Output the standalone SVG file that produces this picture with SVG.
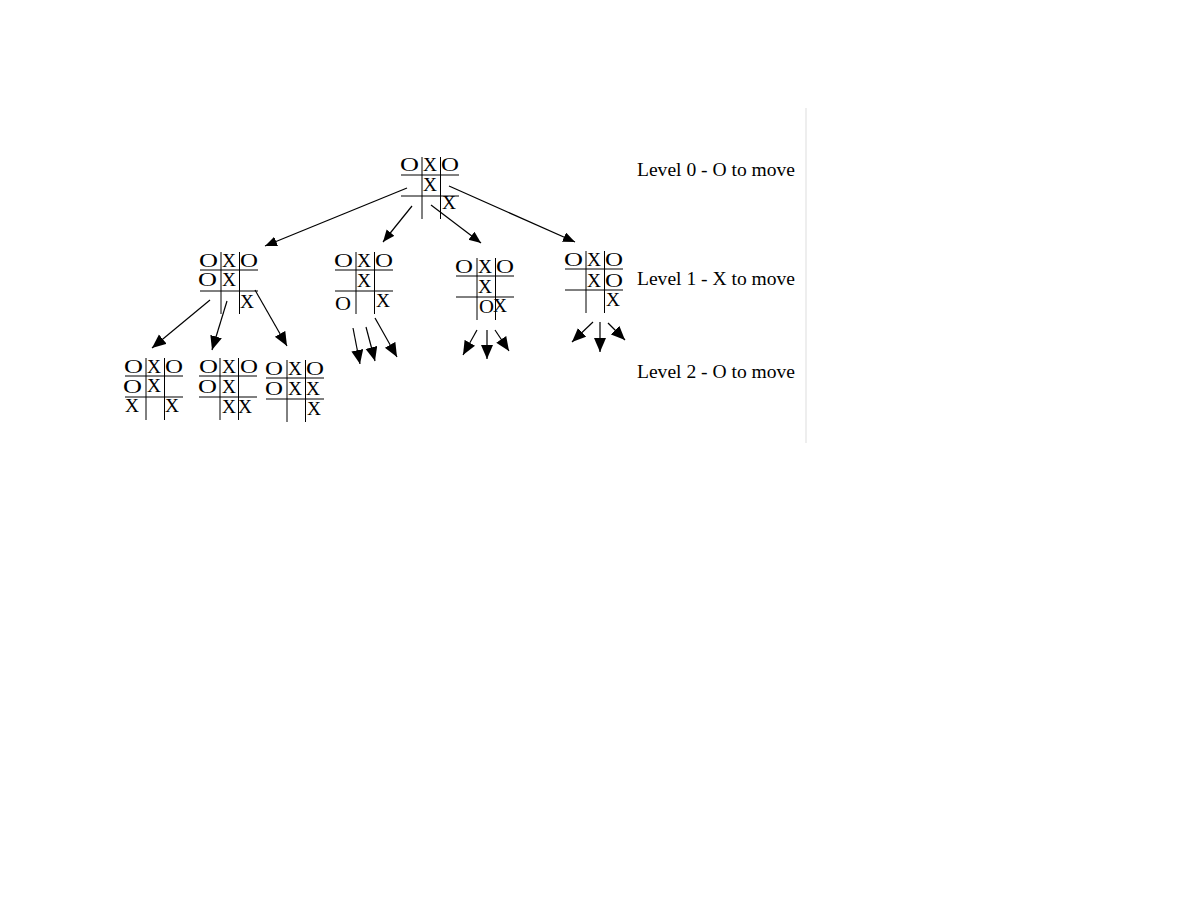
<svg xmlns="http://www.w3.org/2000/svg" width="1188" height="918" viewBox="0 0 1188 918">
<style>
.g line{stroke:#000;stroke-width:1}
.t{font-family:"Liberation Serif","Times New Roman",serif;font-size:19px;fill:#000}
.c line{stroke:#000;stroke-width:1.2}
.lbl{font-family:"Liberation Serif","Times New Roman",serif;font-size:18.5px;fill:#000}
</style>
<defs>
<marker id="ah" markerUnits="userSpaceOnUse" markerWidth="13" markerHeight="11" refX="12" refY="5" orient="auto"><path d="M0,0 L12,5 L0,10 z" fill="#000"/></marker>
<marker id="ah2" markerUnits="userSpaceOnUse" markerWidth="15" markerHeight="13" refX="14" refY="6" orient="auto"><path d="M0,0 L14,6 L0,12 z" fill="#000"/></marker>
<g id="grid" class="g"><line x1="0" y1="18" x2="58" y2="18"/><line x1="0" y1="39" x2="58" y2="39"/><line x1="21" y1="0" x2="21" y2="62"/><line x1="39.5" y1="0" x2="39.5" y2="62"/></g>
</defs>
<rect width="1188" height="918" fill="#fff"/>
<line x1="806" y1="108" x2="806" y2="443" stroke="#ddd" stroke-width="1"/>

<g id="root" transform="translate(401,157)">
<use href="#grid"/>
<text class="t" x="-1" y="14" textLength="19" lengthAdjust="spacingAndGlyphs">O</text>
<text class="t" x="22" y="14" textLength="14" lengthAdjust="spacingAndGlyphs">X</text>
<text class="t" x="40" y="14" textLength="18" lengthAdjust="spacingAndGlyphs">O</text>
<text class="t" x="22" y="34" textLength="14" lengthAdjust="spacingAndGlyphs">X</text>
<text class="t" x="41" y="52" textLength="14" lengthAdjust="spacingAndGlyphs">X</text>
</g>

<g id="b1" transform="translate(200,252)">
<use href="#grid"/>
<text class="t" x="-1" y="15" textLength="19" lengthAdjust="spacingAndGlyphs">O</text>
<text class="t" x="22" y="15" textLength="14" lengthAdjust="spacingAndGlyphs">X</text>
<text class="t" x="40" y="15" textLength="18" lengthAdjust="spacingAndGlyphs">O</text>
<text class="t" x="-2" y="34" textLength="19" lengthAdjust="spacingAndGlyphs">O</text>
<text class="t" x="22" y="34" textLength="14" lengthAdjust="spacingAndGlyphs">X</text>
<text class="t" x="40" y="56" textLength="14" lengthAdjust="spacingAndGlyphs">X</text>
</g>

<g id="b2" transform="translate(335,252)">
<use href="#grid"/>
<text class="t" x="-1" y="15" textLength="19" lengthAdjust="spacingAndGlyphs">O</text>
<text class="t" x="22" y="15" textLength="14" lengthAdjust="spacingAndGlyphs">X</text>
<text class="t" x="40" y="15" textLength="18" lengthAdjust="spacingAndGlyphs">O</text>
<text class="t" x="22" y="35" textLength="14" lengthAdjust="spacingAndGlyphs">X</text>
<text class="t" x="0" y="58" textLength="16" lengthAdjust="spacingAndGlyphs">O</text>
<text class="t" x="41" y="55" textLength="14" lengthAdjust="spacingAndGlyphs">X</text>
</g>

<g id="b3" transform="translate(456,258)">
<use href="#grid"/>
<text class="t" x="-1" y="15" textLength="18" lengthAdjust="spacingAndGlyphs">O</text>
<text class="t" x="22" y="15" textLength="14" lengthAdjust="spacingAndGlyphs">X</text>
<text class="t" x="40" y="15" textLength="18" lengthAdjust="spacingAndGlyphs">O</text>
<text class="t" x="22" y="35" textLength="14" lengthAdjust="spacingAndGlyphs">X</text>
<text class="t" x="23" y="55" textLength="15" lengthAdjust="spacingAndGlyphs">O</text>
<text class="t" x="37" y="54" textLength="14" lengthAdjust="spacingAndGlyphs">X</text>
</g>

<g id="b4" transform="translate(565,251)">
<use href="#grid"/>
<text class="t" x="-1" y="15" textLength="19" lengthAdjust="spacingAndGlyphs">O</text>
<text class="t" x="22" y="15" textLength="14" lengthAdjust="spacingAndGlyphs">X</text>
<text class="t" x="40" y="15" textLength="18" lengthAdjust="spacingAndGlyphs">O</text>
<text class="t" x="22" y="36" textLength="14" lengthAdjust="spacingAndGlyphs">X</text>
<text class="t" x="40" y="36" textLength="18" lengthAdjust="spacingAndGlyphs">O</text>
<text class="t" x="41" y="55" textLength="14" lengthAdjust="spacingAndGlyphs">X</text>
</g>

<g id="c1" transform="translate(125,358)">
<use href="#grid"/>
<text class="t" x="-1" y="15" textLength="19" lengthAdjust="spacingAndGlyphs">O</text>
<text class="t" x="22" y="15" textLength="14" lengthAdjust="spacingAndGlyphs">X</text>
<text class="t" x="40" y="15" textLength="18" lengthAdjust="spacingAndGlyphs">O</text>
<text class="t" x="-2" y="35" textLength="19" lengthAdjust="spacingAndGlyphs">O</text>
<text class="t" x="22" y="34" textLength="14" lengthAdjust="spacingAndGlyphs">X</text>
<text class="t" x="0" y="54" textLength="14" lengthAdjust="spacingAndGlyphs">X</text>
<text class="t" x="40" y="54" textLength="14" lengthAdjust="spacingAndGlyphs">X</text>
</g>

<g id="c2" transform="translate(199,358)">
<use href="#grid"/>
<text class="t" x="0" y="15" textLength="19" lengthAdjust="spacingAndGlyphs">O</text>
<text class="t" x="23" y="15" textLength="14" lengthAdjust="spacingAndGlyphs">X</text>
<text class="t" x="41" y="15" textLength="18" lengthAdjust="spacingAndGlyphs">O</text>
<text class="t" x="-1" y="35" textLength="19" lengthAdjust="spacingAndGlyphs">O</text>
<text class="t" x="23" y="35" textLength="14" lengthAdjust="spacingAndGlyphs">X</text>
<text class="t" x="23" y="55" textLength="14" lengthAdjust="spacingAndGlyphs">X</text>
<text class="t" x="39" y="55" textLength="14" lengthAdjust="spacingAndGlyphs">X</text>
</g>

<g id="c3" transform="translate(266,360)">
<use href="#grid"/>
<text class="t" x="-1" y="15" textLength="18" lengthAdjust="spacingAndGlyphs">O</text>
<text class="t" x="22" y="15" textLength="14" lengthAdjust="spacingAndGlyphs">X</text>
<text class="t" x="40" y="15" textLength="18" lengthAdjust="spacingAndGlyphs">O</text>
<text class="t" x="-1" y="35" textLength="18" lengthAdjust="spacingAndGlyphs">O</text>
<text class="t" x="22" y="35" textLength="14" lengthAdjust="spacingAndGlyphs">X</text>
<text class="t" x="40" y="35" textLength="14" lengthAdjust="spacingAndGlyphs">X</text>
<text class="t" x="41" y="55" textLength="14" lengthAdjust="spacingAndGlyphs">X</text>
</g>

<g id="connectors" class="c">
<line x1="407" y1="188" x2="265" y2="246" marker-end="url(#ah)"/>
<line x1="412" y1="206" x2="383" y2="242" marker-end="url(#ah)"/>
<line x1="431" y1="205" x2="481" y2="243" marker-end="url(#ah)"/>
<line x1="449" y1="186" x2="575" y2="242" marker-end="url(#ah)"/>
<line x1="210" y1="300" x2="152" y2="348" marker-end="url(#ah2)"/>
<line x1="227" y1="301" x2="212" y2="350" marker-end="url(#ah2)"/>
<line x1="255" y1="290" x2="287" y2="346" marker-end="url(#ah2)"/>
<line x1="353" y1="328" x2="360" y2="364" marker-end="url(#ah2)"/>
<line x1="366" y1="327" x2="375" y2="361" marker-end="url(#ah2)"/>
<line x1="375" y1="318" x2="397" y2="357" marker-end="url(#ah2)"/>
<line x1="477" y1="330" x2="463" y2="355" marker-end="url(#ah2)"/>
<line x1="487" y1="330" x2="487" y2="359" marker-end="url(#ah2)"/>
<line x1="495" y1="330" x2="509" y2="351" marker-end="url(#ah2)"/>
<line x1="593" y1="322" x2="572" y2="342" marker-end="url(#ah2)"/>
<line x1="600" y1="322" x2="600" y2="352" marker-end="url(#ah2)"/>
<line x1="608" y1="323" x2="625" y2="340" marker-end="url(#ah2)"/>
</g>

<g id="labels">
<text class="lbl" x="637" y="176" textLength="158" lengthAdjust="spacingAndGlyphs">Level 0 - O to move</text>
<text class="lbl" x="637" y="285" textLength="158" lengthAdjust="spacingAndGlyphs">Level 1 - X to move</text>
<text class="lbl" x="637" y="378" textLength="158" lengthAdjust="spacingAndGlyphs">Level 2 - O to move</text>
</g>
</svg>
